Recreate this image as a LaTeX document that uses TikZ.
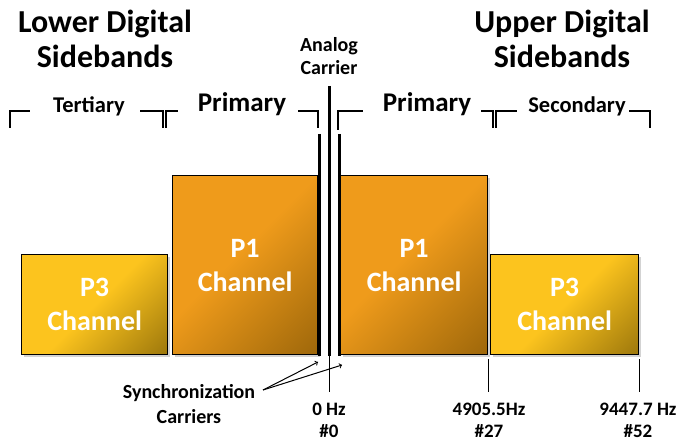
\documentclass[tikz,border=0pt]{standalone}
\usepackage{fontspec}
\setmainfont{Carlito}
\usetikzlibrary{arrows, shadows}
\definecolor{pthreelight}{HTML}{FCC41E}
\definecolor{pthreedark}{HTML}{765804}
\definecolor{ponelight}{HTML}{EF9B1B}
\definecolor{ponedark}{HTML}{805404}
\pgfdeclarehorizontalshading{pthreeshade}{100bp}{color(0bp)=(pthreelight); color(50bp)=(pthreelight); color(100bp)=(pthreedark)}
\pgfdeclarehorizontalshading{poneshade}{100bp}{color(0bp)=(ponelight); color(46bp)=(ponelight); color(100bp)=(ponedark)}
\newcommand{\fsize}[2]{\bfseries\fontsize{#1}{#2}\selectfont}
\tikzset{chan/.style = {shape=rectangle,draw,line width=1.2pt,inner sep=0pt,anchor=north west,align=center,text=white,font=\fsize{28}{34},shading angle=-45,drop shadow={shadow xshift=2pt,shadow yshift=-2pt,opacity=0.35}}}
\tikzset{pthree/.style = {chan,shading=pthreeshade}}
\tikzset{pone/.style = {chan,shading=poneshade}}
\tikzset{title/.style = {align=center,anchor=base,inner sep=0pt,font=\fsize{32}{35}}}
\tikzset{small/.style = {align=center,anchor=base,inner sep=0pt,font=\fsize{19}{22}}}
\tikzset{band/.style = {line width=1.2pt}}
\tikzset{carrier/.style = {line width=3pt}}
\tikzset{tick/.style = {line width=1pt}}
\tikzset{syncarrow/.style = {->,> = to,line width=1pt}}

\begin{document}
\begin{tikzpicture}[x=1pt,y=-1pt]
                \useasboundingbox (0,0) rectangle (678,441);
                \node[title] (lower) at (105,68) {Lower Digital\\Sidebands};
                \node[title] (upper) at (562,68) {Upper Digital\\Sidebands};
                \node[small,font=\fsize{20}{23}] (analog) at (329,75) {Analog\\Carrier};
                \node[pthree,minimum width=146pt,minimum height=100pt] (p3l) at (21,254) {P3\\Channel};
                \node[pone,minimum width=145pt,minimum height=179pt] (p1l) at (172,175) {P1\\Channel};
                \node[pone,minimum width=147pt,minimum height=179pt] (p1u) at (340,175) {P1\\Channel};
                \node[pthree,minimum width=148pt,minimum height=100pt] (p3u) at (490,254) {P3\\Channel};
                \node[small,font=\fsize{22.5}{24}] (tert) at (89,113) {Tertiary};
                \node[small,font=\fsize{27}{24}] (priml) at (242,112) {Primary};
                \node[small,font=\fsize{27}{24}] (primu) at (427,112) {Primary};
                \node[small,font=\fsize{22.5}{24}] (second) at (577,113) {Secondary};
                \draw[band] (10,128) -- (10,111) -- (30,111);
                \draw[band] (140,111) -- (163,111) -- (163,128);
                \draw[band] (166,128) -- (166,111) -- (178,111);
                \draw[band] (298,111) -- (318,111) -- (318,128);
                \draw[band] (338,130) -- (338,111) -- (363,111);
                \draw[band] (481,111) -- (493,111) -- (493,128);
                \draw[band] (496,128) -- (496,111) -- (517,111);
                \draw[band] (629,111) -- (650,111) -- (650,128);
                \coordinate (syncl) at (319,356);
                \coordinate (syncu) at (339,356);
                \coordinate (zero) at (329,356);
                \draw[carrier] (319,134) -- (syncl);
                \draw[carrier] (339,134) -- (syncu);
                \draw[carrier] (329,86) -- (zero);
                \draw[tick] (zero) -- (329,392);
                \draw[tick] (488,359) -- (488,392);
                \draw[tick] (639,359) -- (639,392);
                \node[small] (zerohz) at (329,437) {0 Hz\\\#0};
                \node[small] (midhz) at (489,437) {4905.5Hz\\\#27};
                \node[small] (tophz) at (638,437) {9447.7 Hz\\\#52};
                \node[small,font=\fsize{20}{25}] (sync) at (189,423) {Synchronization\\Carriers};
                \coordinate (syncfrom) at (263,390);
                \coordinate (synctipl) at (318,362);
                \coordinate (synctipu) at (342,365);
                \draw[syncarrow] (syncfrom) -- (synctipl);
                \draw[syncarrow] (syncfrom) -- (synctipu);
            \end{tikzpicture}
\end{document}
